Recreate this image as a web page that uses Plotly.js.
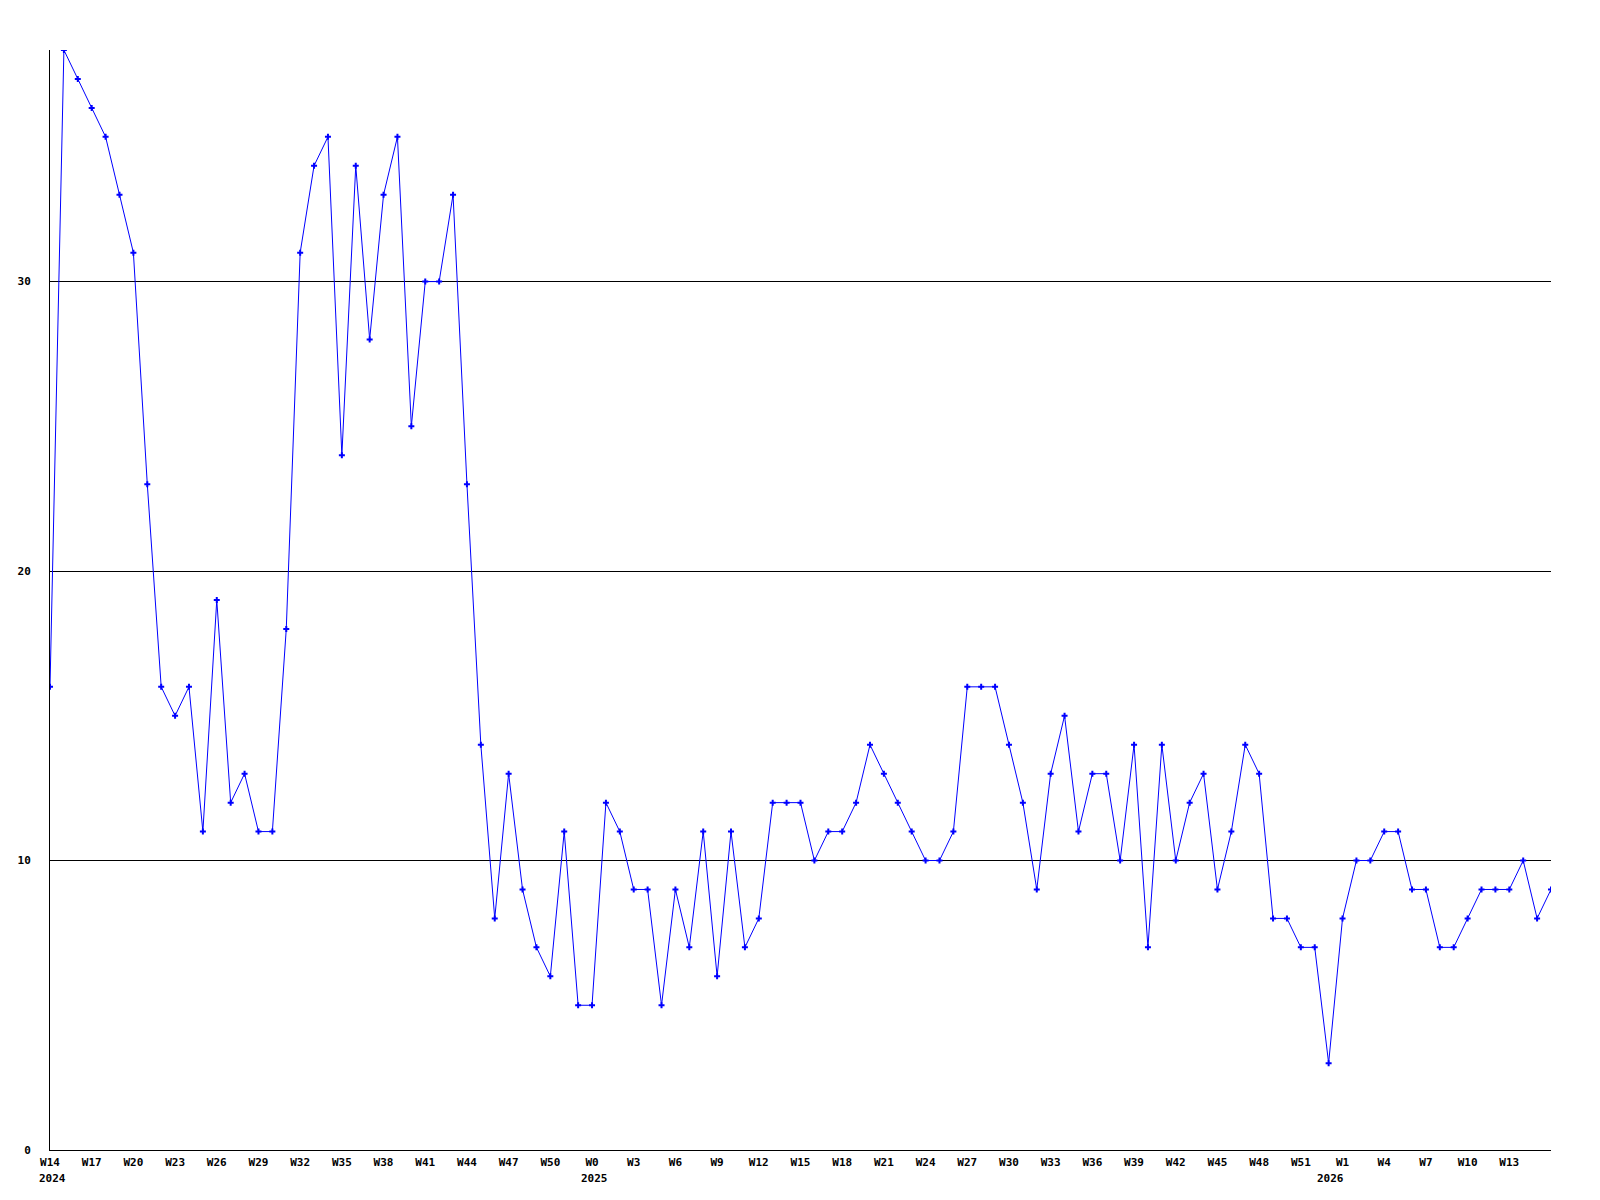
<!DOCTYPE html>
<html>
<head>
<meta charset="utf-8">
<script src="https://cdn.plot.ly/plotly-3.0.1.min.js"></script>
<style>
  html, body { margin: 0; padding: 0; background: #fff; }
  #chart { width: 1600px; height: 1200px; }
</style>
</head>
<body>
<div id="chart"></div>
<script>
// Week labels for each data point (2024 W14 .. 2026 W16)
const weeks2024 = ['W14','W15','W16','W17','W18','W19','W20','W21','W22','W23','W24','W25','W26','W27','W28','W29','W30','W31','W32','W33','W34','W35','W36','W37','W38','W39','W40','W41','W42','W43','W44','W45','W46','W47','W48','W49','W50','W51','W52'];
const weeks2025 = ['W0','W1','W2','W3','W4','W5','W6','W7','W8','W9','W10','W11','W12','W13','W14','W15','W16','W17','W18','W19','W20','W21','W22','W23','W24','W25','W26','W27','W28','W29','W30','W31','W32','W33','W34','W35','W36','W37','W38','W39','W40','W41','W42','W43','W44','W45','W46','W47','W48','W49','W50','W51','W52'];
const weeks2026 = ['W0','W1','W2','W3','W4','W5','W6','W7','W8','W9','W10','W11','W12','W13','W14','W15','W16'];
const years = ['2024', '2025', '2026'];

// Weekly values
const values2024 = [16,38,37,36,35,33,31,23,16,15,16,11,19,12,13,11,11,18,31,34,35,24,34,28,33,35,25,30,30,33,23,14,8,13,9,7,6,11,5];
const values2025 = [5,12,11,9,9,5,9,7,11,6,11,7,8,12,12,12,10,11,11,12,14,13,12,11,10,10,11,16,16,16,14,12,9,13,15,11,13,13,10,14,7,14,10,12,13,9,11,14,13,8,8,7,7];
const values2026 = [3,8,10,10,11,11,9,9,7,7,8,9,9,9,10,8,9];

const yTicks = [0, 10, 20, 30];

const weekLabels = weeks2024.concat(weeks2025, weeks2026);
const values = values2024.concat(values2025, values2026);
const idx = values.map((_, i) => i);

// Tick labels every 3rd point (the last point at the right edge is not labelled)
const tickvals = [], ticktext = [];
for (let i = 0; i < weekLabels.length - 1; i += 3) { tickvals.push(i); ticktext.push(weekLabels[i]); }

// Year start positions
const yearStarts = [0, weeks2024.length, weeks2024.length + weeks2025.length];

const font = { family: 'DejaVu Sans Mono, Liberation Mono, monospace', size: 11, color: '#000', weight: 'bold' };

const trace = {
  x: idx,
  y: values,
  type: 'scatter',
  mode: 'lines+markers',
  line: { color: '#0000ff', width: 1 },
  marker: { color: '#0000ff', symbol: 'cross', size: 5, line: { width: 0 } },
  hoverinfo: 'skip'
};

const annotations = years.map((y, k) => ({
  text: y,
  x: yearStarts[k],
  xref: 'x',
  y: 0,
  yref: 'paper',
  xanchor: 'center',
  yanchor: 'top',
  yshift: -20,
  xshift: 2,
  showarrow: false,
  font: font
}));

const layout = {
  width: 1600,
  height: 1200,
  paper_bgcolor: '#fff',
  plot_bgcolor: '#fff',
  showlegend: false,
  margin: { l: 50, r: 49, t: 50, b: 50, pad: 0 },
  xaxis: {
    range: [0, weekLabels.length - 1],
    tickvals: tickvals,
    ticktext: ticktext,
    tickfont: font,
    tickangle: 0,
    ticks: '',
    ticklabelstandoff: 2,
    showgrid: false,
    zeroline: false,
    showline: true,
    linecolor: '#000',
    linewidth: 1
  },
  yaxis: {
    range: [0, 38],
    tickvals: yTicks,
    ticktext: yTicks.map(String),
    tickfont: font,
    ticks: '',
    ticklabelstandoff: 16,
    showgrid: true,
    gridcolor: '#000',
    gridwidth: 1,
    zeroline: false,
    showline: true,
    linecolor: '#000',
    linewidth: 1
  },
  annotations: annotations
};

Plotly.newPlot('chart', [trace], layout, { staticPlot: true, displayModeBar: false });
</script>
</body>
</html>
